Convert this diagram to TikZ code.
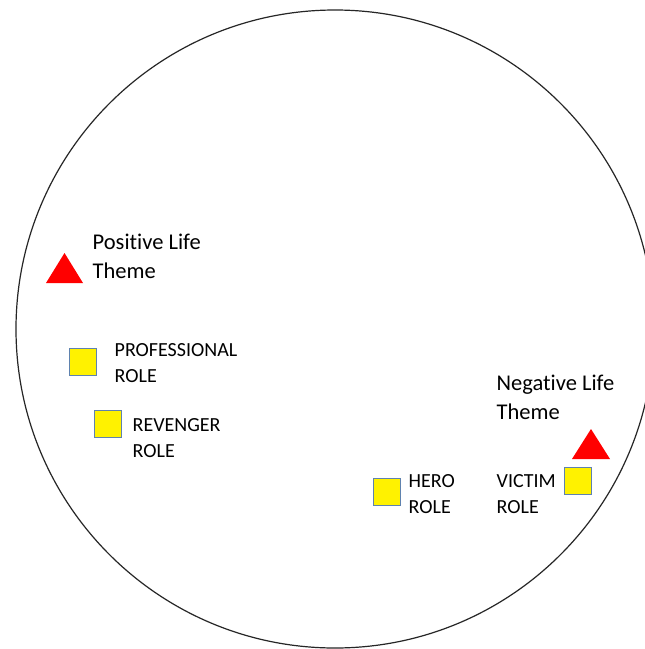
\documentclass[tikz,border=0pt]{standalone}
\usepackage{fontspec}
\setmainfont{Carlito}[Ligatures=NoCommon]
\begin{document}
\begin{tikzpicture}[x=1pt,y=-1pt,
  ring/.style={draw=black!85,line width=1.2pt},
  role/.style={draw={rgb,255:red,95;green,130;blue,175},line width=0.7pt,fill=yellow,
               minimum size=27pt,inner sep=0pt},
  rolelabel/.style={anchor=base west,align=left,inner sep=0pt,text=black,
                    font=\fontsize{20}{26}\selectfont},
  themelabel/.style={anchor=base west,align=left,inner sep=0pt,text=black,
                    font=\fontsize{22.5}{29}\selectfont},
  theme/.style={fill=red}]
\useasboundingbox (0,0) rectangle (645,649);
\fill[white] (0,0) rectangle (645,649);

% outer circle
\draw[ring] (335,329) circle[radius=319];

% life themes (labels anchored on the baseline of their last line)
\coordinate (pos) at (64.5,268);
\fill[theme] ([xshift=-18.5pt,yshift=-15pt]pos) -- ([xshift=18.5pt,yshift=-15pt]pos) -- ([yshift=15pt]pos) -- cycle;
\node[themelabel] (poslabel) at (92.5,278) {Positive Life\\Theme};

\coordinate (neg) at (591,444);
\fill[theme] ([xshift=-19pt,yshift=-15pt]neg) -- ([xshift=19pt,yshift=-15pt]neg) -- ([yshift=15pt]neg) -- cycle;
\node[themelabel] (neglabel) at (496.5,419) {Negative Life\\Theme};

% roles
\node[role] (professional) at (82.5,361.5) {};
\node[rolelabel] (proflabel) at (114.5,382) {PROFESSIONAL\\ROLE};

\node[role] (revenger) at (107.5,423.5) {};
\node[rolelabel] (revlabel) at (132.5,457) {REVENGER\\ROLE};

\node[role] (hero) at (386.5,492) {};
\node[rolelabel] (herolabel) at (408.5,513) {HERO\\ROLE};

\node[role] (victim) at (577.5,480.5) {};
\node[rolelabel] (viclabel) at (496.5,513) {VICTIM\\ROLE};
\end{tikzpicture}
\end{document}
